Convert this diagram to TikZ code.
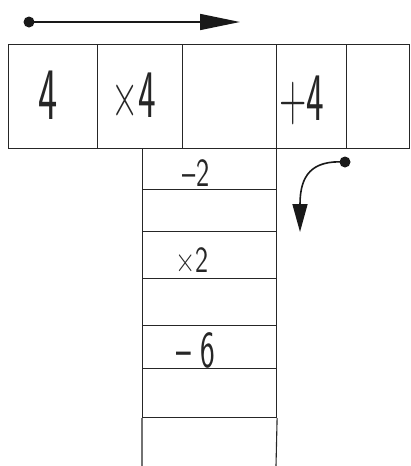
\documentclass[tikz,border=0pt]{standalone}
\usepackage{graphicx}
\usetikzlibrary{arrows.meta}
\tikzset{
  cell/.style={draw=black!85, line width=1.1pt, rectangle, inner sep=0pt, anchor=north west},
  hand/.style={font=\sffamily, text=black!85, inner sep=0pt},
  conn/.style={draw=black!90, line width=1.6pt},
}
\newcommand{\hw}[3]{\scalebox{#2}[1]{\fontsize{#1}{#1}\selectfont #3}}
\begin{document}
\begin{tikzpicture}[x=1pt,y=-1pt]
\useasboundingbox (0,0) rectangle (410,466);
% top row
\node[cell, minimum width=89pt, minimum height=104pt] (c1) at (8,44) {};
\node[cell, minimum width=85pt, minimum height=104pt] (c2) at (97,44) {};
\node[cell, minimum width=94pt, minimum height=104pt] (c3) at (182,44) {};
\node[cell, minimum width=70pt, minimum height=104pt] (c4) at (276,44) {};
\node[cell, minimum width=63pt, minimum height=104pt] (c5) at (346,44) {};
% column
\node[cell, minimum width=134pt, minimum height=41pt] (r1) at (142,148) {};
\node[cell, minimum width=134pt, minimum height=42pt] (r2) at (142,189) {};
\node[cell, minimum width=134pt, minimum height=47pt] (r3) at (142,231) {};
\node[cell, minimum width=134pt, minimum height=47pt] (r4) at (142,278) {};
\node[cell, minimum width=134pt, minimum height=43pt] (r5) at (142,325) {};
\node[cell, minimum width=134pt, minimum height=49pt] (r6) at (142,368) {};
\coordinate (b1) at (142,466);
\coordinate (b2) at (276,466);
\draw[draw=black!85, line width=1.1pt] (r6.south west) -- (b1) (r6.south east) -- (b2);
% texts
\node[hand] (t1) at (48,95) {\hw{74pt}{0.55}{4}};
\node[hand] (t2) at (134,95) {\hw{68pt}{0.55}{×4}};
\node[hand] (t4) at (302,100) {\hw{68pt}{0.55}{+4}};
\node[hand] (t5) at (196,173) {\hw{40pt}{0.7}{–2}};
\node[hand] (t6) at (192,260) {\hw{37pt}{0.75}{×2}};
\node[hand] (t7) at (196,350) {\hw{52pt}{0.6}{– 6}};
% arrows
\coordinate (a0) at (29,22);
\coordinate (a1) at (240,22);
\fill[black!90] (a0) circle (5.5pt);
\draw[conn, -{Triangle[length=40pt,width=16pt]}] (a0) -- (a1);
\coordinate (d0) at (345,162);
\coordinate (d1) at (300,232);
\fill[black!90] (d0) circle (5.5pt);
\draw[conn, -{Triangle[length=28pt,width=15pt]}] (d0) .. controls (312,160) and (300,175) .. (d1);
\end{tikzpicture}
\end{document}
